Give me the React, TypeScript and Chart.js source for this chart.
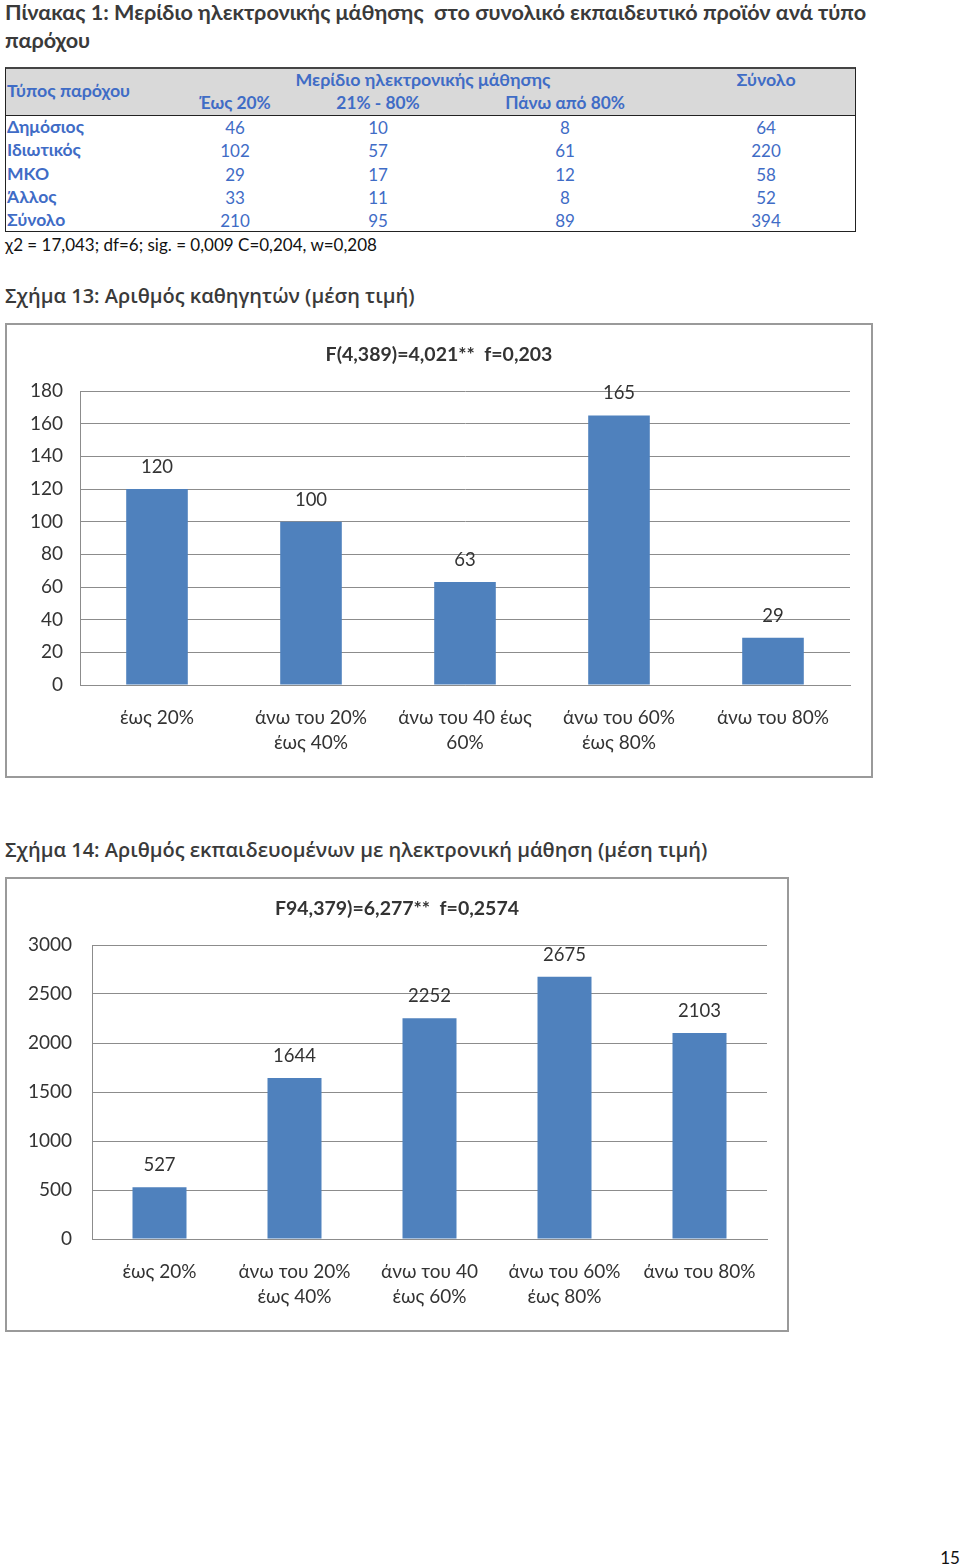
import React, { useEffect, useRef } from "react";
import { Chart, registerables } from "chart.js";

Chart.register(...registerables);

// ---------- Table data ----------
const providerTypes = ["Δημόσιος", "Ιδιωτικός", "ΜΚΟ", "Άλλος", "Σύνολο"];
const shareUpTo20 = [46, 102, 29, 33, 210];
const share21to80 = [10, 57, 17, 11, 95];
const shareAbove80 = [8, 61, 12, 8, 89];
const providerTotals = [64, 220, 58, 52, 394];
const shareHeaders = ["Έως 20%", "21% - 80%", "Πάνω από 80%"];

// ---------- Chart 13 data ----------
const categories13 = [
  ["έως 20%"],
  ["άνω του 20%", "έως 40%"],
  ["άνω του 40 έως", "60%"],
  ["άνω του 60%", "έως 80%"],
  ["άνω του 80%"],
];
const values13 = [120, 100, 63, 165, 29];

// ---------- Chart 14 data ----------
const categories14 = [
  ["έως 20%"],
  ["άνω του 20%", "έως 40%"],
  ["άνω του 40", "έως 60%"],
  ["άνω του 60%", "έως 80%"],
  ["άνω του 80%"],
];
const values14 = [527, 1644, 2252, 2675, 2103];

const FONT = "Lato, 'Noto Sans', sans-serif";
const HEAD_FONT = "'Open Sans', 'Noto Sans', sans-serif";
const BAR = "#4F81BD";
const GRID = "#8C8C8C";
const TXT = "#333333";
const BLUE = "#3F6CC6";

const valueLabels = {
  id: "valueLabels",
  afterDatasetsDraw(chart: any) {
    const ctx = chart.ctx;
    const meta = chart.getDatasetMeta(0);
    const data = chart.data.datasets[0].data;
    ctx.save();
    ctx.font = `18.5px ${FONT}`;
    ctx.fillStyle = TXT;
    ctx.textAlign = "center";
    ctx.textBaseline = "middle";
    meta.data.forEach((bar: any, i: number) => {
      ctx.fillText(String(data[i]), bar.x, bar.y - 22);
    });
    ctx.restore();
  },
};

function BarChart(props: {
  labels: string[][];
  values: number[];
  max: number;
  step: number;
  width: number;
  height: number;
  yAxisWidth: number;
  rightPad: number;
  tickPad: number;
}) {
  const ref = useRef<HTMLCanvasElement | null>(null);
  useEffect(() => {
    if (!ref.current) return;
    const chart = new Chart(ref.current, {
      type: "bar",
      data: {
        labels: props.labels,
        datasets: [
          {
            data: props.values,
            backgroundColor: BAR,
            borderWidth: 0,
            barPercentage: 0.4,
            categoryPercentage: 1,
          },
        ],
      },
      options: {
        responsive: false,
        animation: false,
        devicePixelRatio: 1,
        layout: { padding: { left: 0, right: props.rightPad, top: 66, bottom: 0 } },
        plugins: {
          legend: { display: false },
          tooltip: { enabled: false },
          title: { display: false },
        },
        scales: {
          x: {
            grid: { display: false, drawTicks: false },
            border: { display: true, color: GRID, width: 1 },
            ticks: {
              color: TXT,
              font: { family: FONT, size: 19, lineHeight: 1.32 },
              padding: 20,
              maxRotation: 0,
              autoSkip: false,
            },
            afterFit: (s: any) => {
              s.height = 91;
            },
          },
          y: {
            min: 0,
            max: props.max,
            grid: { color: GRID, lineWidth: 1, drawTicks: false },
            border: { display: true, color: GRID, width: 1 },
            ticks: {
              stepSize: props.step,
              color: TXT,
              font: { family: FONT, size: 19 },
              padding: props.tickPad,
              callback: (v: any) => String(v),
            },
            afterFit: (s: any) => {
              s.width = props.yAxisWidth;
            },
          },
        },
      },
      plugins: [valueLabels],
    } as any);
    return () => chart.destroy();
  }, []);
  return (
    <canvas
      ref={ref}
      width={props.width}
      height={props.height}
      style={{ display: "block", width: props.width, height: props.height }}
    />
  );
}

function Txt(props: {
  x: number;
  y: number;
  children: React.ReactNode;
  align?: "left" | "center";
  size?: number;
  bold?: boolean;
  color?: string;
  family?: string;
  weight?: number;
}) {
  const align = props.align || "center";
  return (
    <div
      style={{
        position: "absolute",
        left: props.x,
        top: props.y,
        transform: align === "center" ? "translate(-50%, -50%)" : "translateY(-50%)",
        whiteSpace: "pre",
        fontFamily: props.family || FONT,
        fontSize: props.size || 17,
        fontWeight: props.weight || (props.bold ? 700 : 400),
        color: props.color || TXT,
        lineHeight: 1,
      }}
    >
      {props.children}
    </div>
  );
}

const rowY = [127, 150, 174, 197, 220];
const colX = [235, 378, 565, 766];

export default function App() {
  return (
    <div
      style={{
        position: "absolute",
        left: 0,
        top: 0,
        width: 960,
        height: 1567,
        background: "#fff",
        overflow: "hidden",
      }}
    >
      <Txt x={5} y={13} align="left" size={21.6} bold color="#3a3a3a" family={FONT}>
        {"Πίνακας 1: Μερίδιο ηλεκτρονικής μάθησης  στο συνολικό εκπαιδευτικό προϊόν ανά τύπο"}
      </Txt>
      <Txt x={5} y={41} align="left" size={21.6} bold color="#3a3a3a" family={FONT}>
        παρόχου
      </Txt>

      {/* Table */}
      <div
        style={{
          position: "absolute",
          left: 5,
          top: 67,
          width: 851,
          height: 165,
          border: "1px solid #222",
          borderTop: "2px solid #444",
          boxSizing: "border-box",
        }}
      />
      <div
        style={{
          position: "absolute",
          left: 6,
          top: 69,
          width: 849,
          height: 46,
          background: "#D9D9D9",
          borderBottom: "1px solid #222",
        }}
      />
      <Txt x={7} y={91} align="left" size={17.8} bold color={BLUE}>Τύπος παρόχου</Txt>
      <Txt x={423} y={80} size={17.8} bold color={BLUE}>Μερίδιο ηλεκτρονικής μάθησης</Txt>
      <Txt x={766} y={80} size={17.8} bold color={BLUE}>Σύνολο</Txt>
      {shareHeaders.map((h, i) => (
        <Txt key={h} x={colX[i]} y={103} size={17.3} bold color={BLUE}>{h}</Txt>
      ))}
      {providerTypes.map((p, r) => (
        <React.Fragment key={p}>
          <Txt x={7} y={rowY[r]} align="left" size={17.5} bold color={BLUE}>{p}</Txt>
          <Txt x={colX[0]} y={rowY[r]} color={BLUE}>{shareUpTo20[r]}</Txt>
          <Txt x={colX[1]} y={rowY[r]} color={BLUE}>{share21to80[r]}</Txt>
          <Txt x={colX[2]} y={rowY[r]} color={BLUE}>{shareAbove80[r]}</Txt>
          <Txt x={colX[3]} y={rowY[r]} color={BLUE}>{providerTotals[r]}</Txt>
        </React.Fragment>
      ))}
      <Txt x={5} y={244} align="left" size={17} color="#111">
        χ2 = 17,043; df=6; sig. = 0,009 C=0,204, w=0,208
      </Txt>

      <Txt x={5} y={296} align="left" size={20} weight={600} color="#3a3a3a" family={HEAD_FONT}>
        Σχήμα 13: Αριθμός καθηγητών (μέση τιμή)
      </Txt>

      <div
        style={{
          position: "absolute",
          left: 5,
          top: 323,
          width: 868,
          height: 455,
          border: "2px solid #9a9a9a",
          boxSizing: "border-box",
        }}
      >
        <BarChart
          labels={categories13}
          values={values13}
          max={180}
          step={20}
          width={864}
          height={451}
          yAxisWidth={73}
          rightPad={21}
          tickPad={17}
        />
        <Txt x={432} y={29} size={19.5} bold>
          {"F(4,389)=4,021**  f=0,203"}
        </Txt>
      </div>

      <Txt x={5} y={850} align="left" size={20} weight={600} color="#3a3a3a" family={HEAD_FONT}>
        Σχήμα 14: Αριθμός εκπαιδευομένων με ηλεκτρονική μάθηση (μέση τιμή)
      </Txt>

      <div
        style={{
          position: "absolute",
          left: 5,
          top: 877,
          width: 784,
          height: 455,
          border: "2px solid #9a9a9a",
          boxSizing: "border-box",
        }}
      >
        <BarChart
          labels={categories14}
          values={values14}
          max={3000}
          step={500}
          width={780}
          height={451}
          yAxisWidth={85}
          rightPad={20}
          tickPad={20}
        />
        <Txt x={390} y={29} size={19.5} bold>
          {"F94,379)=6,277**  f=0,2574"}
        </Txt>
      </div>

      <Txt x={950} y={1557} size={17} color="#111">15</Txt>
    </div>
  );
}
